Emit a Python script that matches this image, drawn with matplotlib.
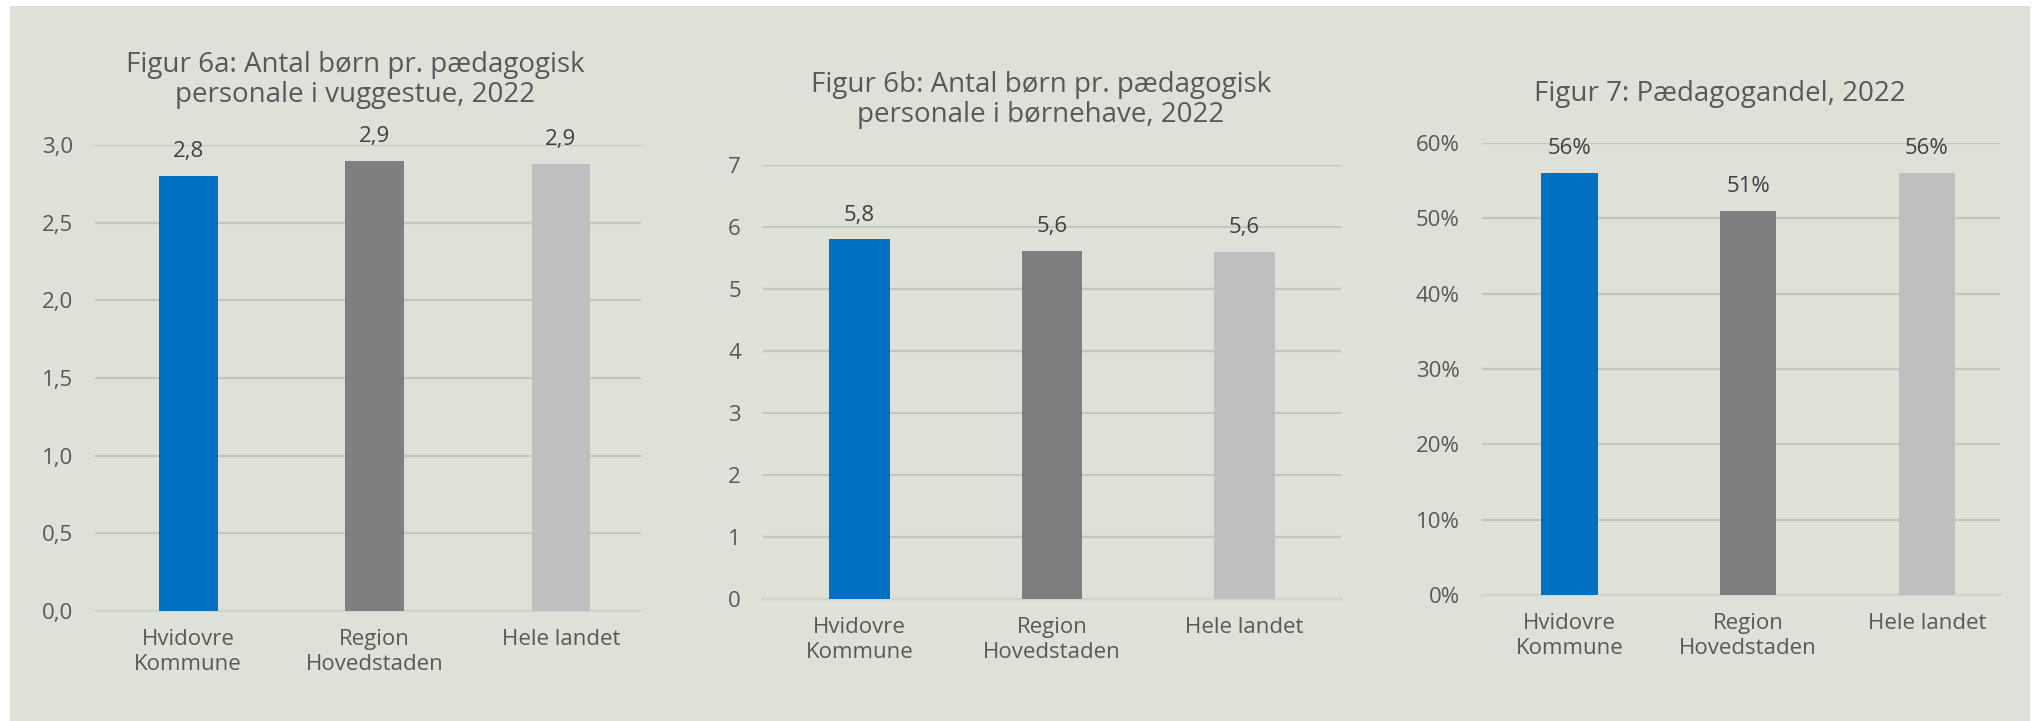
import matplotlib.pyplot as plt
from matplotlib.patches import Rectangle
from matplotlib.ticker import FuncFormatter

plt.rcParams['font.family'] = ['Open Sans', 'DejaVu Sans']

categories = ['Hvidovre\nKommune', 'Region\nHovedstaden', 'Hele landet']
colors = ['#0070C0', '#7F7F7F', '#BFBFBF']

vuggestue = [2.80, 2.90, 2.88]
vuggestue_labels = ['2,8', '2,9', '2,9']
boernehave = [5.80, 5.62, 5.60]
boernehave_labels = ['5,8', '5,6', '5,6']
paedagogandel = [0.56, 0.51, 0.56]
paedagogandel_labels = ['56%', '51%', '56%']

titles = ['Figur 6a: Antal børn pr. pædagogisk\npersonale i vuggestue, 2022',
          'Figur 6b: Antal børn pr. pædagogisk\npersonale i børnehave, 2022',
          'Figur 7: Pædagogandel, 2022']

W, H = 2035, 721
bg = '#DEE1D8'
tick_col = '#595959'
label_col = '#404040'

fig = plt.figure(figsize=(W / 100, H / 100), dpi=100)
fig.patches.append(Rectangle((10 / W, 0), 2020 / W, 715 / H, transform=fig.transFigure,
                             facecolor=bg, edgecolor='none', zorder=-10))


def px_axes(left, right, top, bottom):
    ax = fig.add_axes([left / W, (H - bottom) / H, (right - left) / W, (bottom - top) / H])
    ax.set_facecolor('none')
    return ax


def draw_panel(ax, values, labels, ylim, yticks, fmt, xlim):
    x = range(len(values))
    ax.bar(x, values, width=0.315, color=colors, zorder=3)
    ax.set_ylim(0, ylim)
    ax.set_xlim(*xlim)
    ax.set_yticks(yticks)
    ax.yaxis.set_major_formatter(FuncFormatter(fmt))
    ax.set_xticks(list(x))
    ax.set_xticklabels(categories, linespacing=1.25)
    ax.grid(axis='y', color='#C4C6C0', linewidth=1.6, zorder=0)
    ax.set_axisbelow(True)
    for s in ['top', 'right', 'left']:
        ax.spines[s].set_visible(False)
    ax.spines['bottom'].set_color('#D3D5CE')
    ax.spines['bottom'].set_linewidth(1.6)
    ax.tick_params(axis='both', length=0, labelsize=16, labelcolor=tick_col)
    ax.tick_params(axis='y', pad=16)
    ax.tick_params(axis='x', pad=13)
    for xi, v, lab in zip(x, values, labels):
        ax.annotate(lab, (xi, v), xytext=(0, 17.5), textcoords='offset points',
                    ha='center', va='center', fontsize=16, color=label_col)


ax1 = px_axes(95, 641, 145, 611)
draw_panel(ax1, vuggestue, vuggestue_labels, 3.0, [0, 0.5, 1, 1.5, 2, 2.5, 3],
           lambda v, p: f'{v:.1f}'.replace('.', ','), (-0.5, 2.43))

ax2 = px_axes(763, 1341, 165, 599)
draw_panel(ax2, boernehave, boernehave_labels, 7, range(8),
           lambda v, p: f'{v:.0f}', (-0.5, 2.5))

ax3 = px_axes(1482, 2000, 143, 595)
draw_panel(ax3, paedagogandel, paedagogandel_labels, 0.6, [0, .1, .2, .3, .4, .5, .6],
           lambda v, p: f'{v * 100:.0f}%', (-0.49, 2.41))

title_pos = [(355, 80), (1041, 100), (1720, 94)]
for (tx, ty), t in zip(title_pos, titles):
    fig.text(tx / W, 1 - ty / H, t, ha='center', va='center', fontsize=20,
             color=tick_col, linespacing=1.1)

fig.savefig('out.png', dpi=100)
